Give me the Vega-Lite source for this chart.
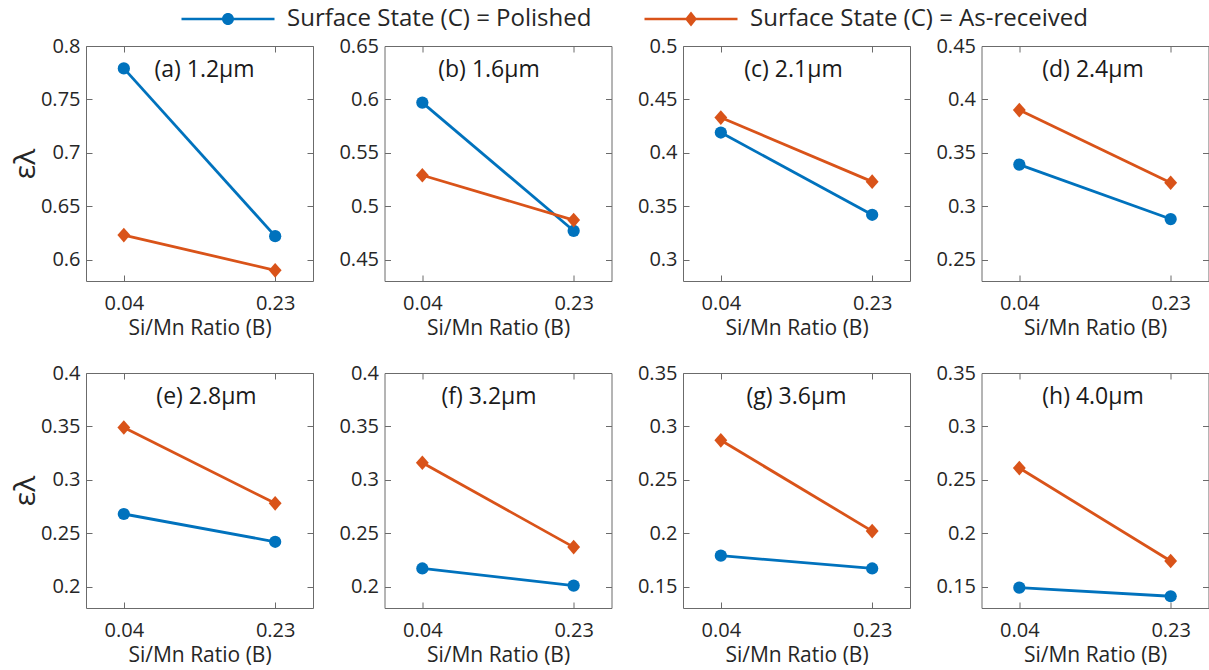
{
  "$schema": "https://vega.github.io/schema/vega-lite/v6.json",
  "padding": {"left": 9, "top": 7, "right": 0, "bottom": 0},
  "background": "white",
  "data": {"values": [
    {"panel": "a", "ratio": "0.04", "state": "Polished", "value": 0.779},
    {"panel": "a", "ratio": "0.23", "state": "Polished", "value": 0.622},
    {"panel": "a", "ratio": "0.04", "state": "As-received", "value": 0.623},
    {"panel": "a", "ratio": "0.23", "state": "As-received", "value": 0.590},
    {"panel": "b", "ratio": "0.04", "state": "Polished", "value": 0.597},
    {"panel": "b", "ratio": "0.23", "state": "Polished", "value": 0.477},
    {"panel": "b", "ratio": "0.04", "state": "As-received", "value": 0.529},
    {"panel": "b", "ratio": "0.23", "state": "As-received", "value": 0.487},
    {"panel": "c", "ratio": "0.04", "state": "Polished", "value": 0.419},
    {"panel": "c", "ratio": "0.23", "state": "Polished", "value": 0.342},
    {"panel": "c", "ratio": "0.04", "state": "As-received", "value": 0.433},
    {"panel": "c", "ratio": "0.23", "state": "As-received", "value": 0.373},
    {"panel": "d", "ratio": "0.04", "state": "Polished", "value": 0.339},
    {"panel": "d", "ratio": "0.23", "state": "Polished", "value": 0.288},
    {"panel": "d", "ratio": "0.04", "state": "As-received", "value": 0.390},
    {"panel": "d", "ratio": "0.23", "state": "As-received", "value": 0.322},
    {"panel": "e", "ratio": "0.04", "state": "Polished", "value": 0.268},
    {"panel": "e", "ratio": "0.23", "state": "Polished", "value": 0.242},
    {"panel": "e", "ratio": "0.04", "state": "As-received", "value": 0.349},
    {"panel": "e", "ratio": "0.23", "state": "As-received", "value": 0.278},
    {"panel": "f", "ratio": "0.04", "state": "Polished", "value": 0.217},
    {"panel": "f", "ratio": "0.23", "state": "Polished", "value": 0.201},
    {"panel": "f", "ratio": "0.04", "state": "As-received", "value": 0.316},
    {"panel": "f", "ratio": "0.23", "state": "As-received", "value": 0.237},
    {"panel": "g", "ratio": "0.04", "state": "Polished", "value": 0.179},
    {"panel": "g", "ratio": "0.23", "state": "Polished", "value": 0.167},
    {"panel": "g", "ratio": "0.04", "state": "As-received", "value": 0.287},
    {"panel": "g", "ratio": "0.23", "state": "As-received", "value": 0.202},
    {"panel": "h", "ratio": "0.04", "state": "Polished", "value": 0.149},
    {"panel": "h", "ratio": "0.23", "state": "Polished", "value": 0.141},
    {"panel": "h", "ratio": "0.04", "state": "As-received", "value": 0.261},
    {"panel": "h", "ratio": "0.23", "state": "As-received", "value": 0.174}
  ]},
  "columns": 4,
  "spacing": {"column": 71.5, "row": 92},
  "bounds": "flush",
  "concat": [
    {
      "width": 227, "height": 235,
      "title": {"text": "(a) 1.2μm", "dx": 5},
      "transform": [{"filter": "datum.panel === 'a'"}],
      "resolve": {"axis": {"x": "independent", "y": "independent"}},
      "layer": [
        {"mark": {"type": "line", "strokeWidth": 2.8},
         "encoding": {
          "x": {"field": "ratio", "type": "ordinal", "sort": ["0.04", "0.23"], "scale": {"type": "point", "padding": 0.25}, "axis": {"title": "Si/Mn Ratio (B)", "labelAngle": 0}},
          "y": {"field": "value", "type": "quantitative", "scale": {"domain": [0.58, 0.8], "nice": false, "zero": false}, "axis": {"title": "ελ", "values": [0.6, 0.65, 0.7, 0.75, 0.8], "format": "~g"}},
          "color": {"field": "state", "type": "nominal", "scale": {"domain": ["Polished", "As-received"], "range": ["#0072BD", "#D95319"]}}}},
        {"mark": {"type": "point", "filled": true, "size": 150, "opacity": 1},
         "encoding": {
          "x": {"field": "ratio", "type": "ordinal", "sort": ["0.04", "0.23"], "scale": {"type": "point", "padding": 0.25}, "axis": {"orient": "top", "labels": false, "title": null}},
          "y": {"field": "value", "type": "quantitative", "scale": {"domain": [0.58, 0.8], "nice": false, "zero": false}, "axis": {"orient": "right", "labels": false, "title": null, "values": [0.6, 0.65, 0.7, 0.75, 0.8]}},
          "color": {"field": "state", "type": "nominal", "scale": {"domain": ["Polished", "As-received"], "range": ["#0072BD", "#D95319"]}},
          "shape": {"condition": {"test": "datum.state === 'Polished'", "value": "circle"}, "value": "M0,-1.2L1.05,0L0,1.2L-1.05,0Z"}}},
        {"mark": {"type": "point", "filled": true, "size": 144, "opacity": 0},
         "encoding": {
          "x": {"field": "ratio", "type": "ordinal", "sort": ["0.04", "0.23"], "scale": {"type": "point", "padding": 0.25}, "axis": null},
          "y": {"field": "value", "type": "quantitative", "scale": {"domain": [0.58, 0.8], "nice": false, "zero": false}, "axis": null},
          "color": {"field": "state", "type": "nominal", "scale": {"domain": ["Polished", "As-received"], "range": ["#0072BD", "#D95319"]},
            "legend": {"title": null, "orient": "none", "legendX": 130, "legendY": -39, "direction": "horizontal", "padding": 0,
              "labelExpr": "'Surface State (C) = ' + datum.label", "labelFont": "Open Sans", "labelFontSize": 24, "labelColor": "#262626", "labelLimit": 600,
              "labelOffset": 47, "columnPadding": 52, "symbolSize": 144, "symbolStrokeWidth": 0, "symbolOpacity": 1}},
          "shape": {"field": "state", "type": "nominal", "scale": {"domain": ["Polished", "As-received"], "range": ["M-7.75,-0.22H7.75V0.22H-7.75Z M1,0A1,1 0 1,1 -1,0A1,1 0 1,1 1,0Z", "M-7.75,-0.22H7.75V0.22H-7.75Z M0,-1.25L1.0,0L0,1.25L-1.0,0Z"]}, "legend": null}}}
      ]
    },
    {
      "width": 227, "height": 235,
      "title": {"text": "(b) 1.6μm", "dx": -9},
      "transform": [{"filter": "datum.panel === 'b'"}],
      "resolve": {"axis": {"x": "independent", "y": "independent"}},
      "layer": [
        {"mark": {"type": "line", "strokeWidth": 2.8},
         "encoding": {
          "x": {"field": "ratio", "type": "ordinal", "sort": ["0.04", "0.23"], "scale": {"type": "point", "padding": 0.25}, "axis": {"title": "Si/Mn Ratio (B)", "labelAngle": 0}},
          "y": {"field": "value", "type": "quantitative", "scale": {"domain": [0.43, 0.65], "nice": false, "zero": false}, "axis": {"title": null, "values": [0.45, 0.5, 0.55, 0.6, 0.65], "format": "~g"}},
          "color": {"field": "state", "type": "nominal", "scale": {"domain": ["Polished", "As-received"], "range": ["#0072BD", "#D95319"]}}}},
        {"mark": {"type": "point", "filled": true, "size": 150, "opacity": 1},
         "encoding": {
          "x": {"field": "ratio", "type": "ordinal", "sort": ["0.04", "0.23"], "scale": {"type": "point", "padding": 0.25}, "axis": {"orient": "top", "labels": false, "title": null}},
          "y": {"field": "value", "type": "quantitative", "scale": {"domain": [0.43, 0.65], "nice": false, "zero": false}, "axis": {"orient": "right", "labels": false, "title": null, "values": [0.45, 0.5, 0.55, 0.6, 0.65]}},
          "color": {"field": "state", "type": "nominal", "scale": {"domain": ["Polished", "As-received"], "range": ["#0072BD", "#D95319"]}},
          "shape": {"condition": {"test": "datum.state === 'Polished'", "value": "circle"}, "value": "M0,-1.2L1.05,0L0,1.2L-1.05,0Z"}}}
      ]
    },
    {
      "width": 227, "height": 235,
      "title": {"text": "(c) 2.1μm", "dx": -3},
      "transform": [{"filter": "datum.panel === 'c'"}],
      "resolve": {"axis": {"x": "independent", "y": "independent"}},
      "layer": [
        {"mark": {"type": "line", "strokeWidth": 2.8},
         "encoding": {
          "x": {"field": "ratio", "type": "ordinal", "sort": ["0.04", "0.23"], "scale": {"type": "point", "padding": 0.25}, "axis": {"title": "Si/Mn Ratio (B)", "labelAngle": 0}},
          "y": {"field": "value", "type": "quantitative", "scale": {"domain": [0.28, 0.5], "nice": false, "zero": false}, "axis": {"title": null, "values": [0.3, 0.35, 0.4, 0.45, 0.5], "format": "~g"}},
          "color": {"field": "state", "type": "nominal", "scale": {"domain": ["Polished", "As-received"], "range": ["#0072BD", "#D95319"]}}}},
        {"mark": {"type": "point", "filled": true, "size": 150, "opacity": 1},
         "encoding": {
          "x": {"field": "ratio", "type": "ordinal", "sort": ["0.04", "0.23"], "scale": {"type": "point", "padding": 0.25}, "axis": {"orient": "top", "labels": false, "title": null}},
          "y": {"field": "value", "type": "quantitative", "scale": {"domain": [0.28, 0.5], "nice": false, "zero": false}, "axis": {"orient": "right", "labels": false, "title": null, "values": [0.3, 0.35, 0.4, 0.45, 0.5]}},
          "color": {"field": "state", "type": "nominal", "scale": {"domain": ["Polished", "As-received"], "range": ["#0072BD", "#D95319"]}},
          "shape": {"condition": {"test": "datum.state === 'Polished'", "value": "circle"}, "value": "M0,-1.2L1.05,0L0,1.2L-1.05,0Z"}}}
      ]
    },
    {
      "width": 227, "height": 235,
      "title": {"text": "(d) 2.4μm", "dx": -2},
      "transform": [{"filter": "datum.panel === 'd'"}],
      "resolve": {"axis": {"x": "independent", "y": "independent"}},
      "layer": [
        {"mark": {"type": "line", "strokeWidth": 2.8},
         "encoding": {
          "x": {"field": "ratio", "type": "ordinal", "sort": ["0.04", "0.23"], "scale": {"type": "point", "padding": 0.25}, "axis": {"title": "Si/Mn Ratio (B)", "labelAngle": 0}},
          "y": {"field": "value", "type": "quantitative", "scale": {"domain": [0.23, 0.45], "nice": false, "zero": false}, "axis": {"title": null, "values": [0.25, 0.3, 0.35, 0.4, 0.45], "format": "~g"}},
          "color": {"field": "state", "type": "nominal", "scale": {"domain": ["Polished", "As-received"], "range": ["#0072BD", "#D95319"]}}}},
        {"mark": {"type": "point", "filled": true, "size": 150, "opacity": 1},
         "encoding": {
          "x": {"field": "ratio", "type": "ordinal", "sort": ["0.04", "0.23"], "scale": {"type": "point", "padding": 0.25}, "axis": {"orient": "top", "labels": false, "title": null}},
          "y": {"field": "value", "type": "quantitative", "scale": {"domain": [0.23, 0.45], "nice": false, "zero": false}, "axis": {"orient": "right", "labels": false, "title": null, "values": [0.25, 0.3, 0.35, 0.4, 0.45]}},
          "color": {"field": "state", "type": "nominal", "scale": {"domain": ["Polished", "As-received"], "range": ["#0072BD", "#D95319"]}},
          "shape": {"condition": {"test": "datum.state === 'Polished'", "value": "circle"}, "value": "M0,-1.2L1.05,0L0,1.2L-1.05,0Z"}}}
      ]
    },
    {
      "width": 227, "height": 235,
      "title": {"text": "(e) 2.8μm", "dx": 7},
      "transform": [{"filter": "datum.panel === 'e'"}],
      "resolve": {"axis": {"x": "independent", "y": "independent"}},
      "layer": [
        {"mark": {"type": "line", "strokeWidth": 2.8},
         "encoding": {
          "x": {"field": "ratio", "type": "ordinal", "sort": ["0.04", "0.23"], "scale": {"type": "point", "padding": 0.25}, "axis": {"title": "Si/Mn Ratio (B)", "labelAngle": 0}},
          "y": {"field": "value", "type": "quantitative", "scale": {"domain": [0.18, 0.4], "nice": false, "zero": false}, "axis": {"title": "ελ", "values": [0.2, 0.25, 0.3, 0.35, 0.4], "format": "~g"}},
          "color": {"field": "state", "type": "nominal", "scale": {"domain": ["Polished", "As-received"], "range": ["#0072BD", "#D95319"]}}}},
        {"mark": {"type": "point", "filled": true, "size": 150, "opacity": 1},
         "encoding": {
          "x": {"field": "ratio", "type": "ordinal", "sort": ["0.04", "0.23"], "scale": {"type": "point", "padding": 0.25}, "axis": {"orient": "top", "labels": false, "title": null}},
          "y": {"field": "value", "type": "quantitative", "scale": {"domain": [0.18, 0.4], "nice": false, "zero": false}, "axis": {"orient": "right", "labels": false, "title": null, "values": [0.2, 0.25, 0.3, 0.35, 0.4]}},
          "color": {"field": "state", "type": "nominal", "scale": {"domain": ["Polished", "As-received"], "range": ["#0072BD", "#D95319"]}},
          "shape": {"condition": {"test": "datum.state === 'Polished'", "value": "circle"}, "value": "M0,-1.2L1.05,0L0,1.2L-1.05,0Z"}}}
      ]
    },
    {
      "width": 227, "height": 235,
      "title": {"text": "(f) 3.2μm", "dx": -9},
      "transform": [{"filter": "datum.panel === 'f'"}],
      "resolve": {"axis": {"x": "independent", "y": "independent"}},
      "layer": [
        {"mark": {"type": "line", "strokeWidth": 2.8},
         "encoding": {
          "x": {"field": "ratio", "type": "ordinal", "sort": ["0.04", "0.23"], "scale": {"type": "point", "padding": 0.25}, "axis": {"title": "Si/Mn Ratio (B)", "labelAngle": 0}},
          "y": {"field": "value", "type": "quantitative", "scale": {"domain": [0.18, 0.4], "nice": false, "zero": false}, "axis": {"title": null, "values": [0.2, 0.25, 0.3, 0.35, 0.4], "format": "~g"}},
          "color": {"field": "state", "type": "nominal", "scale": {"domain": ["Polished", "As-received"], "range": ["#0072BD", "#D95319"]}}}},
        {"mark": {"type": "point", "filled": true, "size": 150, "opacity": 1},
         "encoding": {
          "x": {"field": "ratio", "type": "ordinal", "sort": ["0.04", "0.23"], "scale": {"type": "point", "padding": 0.25}, "axis": {"orient": "top", "labels": false, "title": null}},
          "y": {"field": "value", "type": "quantitative", "scale": {"domain": [0.18, 0.4], "nice": false, "zero": false}, "axis": {"orient": "right", "labels": false, "title": null, "values": [0.2, 0.25, 0.3, 0.35, 0.4]}},
          "color": {"field": "state", "type": "nominal", "scale": {"domain": ["Polished", "As-received"], "range": ["#0072BD", "#D95319"]}},
          "shape": {"condition": {"test": "datum.state === 'Polished'", "value": "circle"}, "value": "M0,-1.2L1.05,0L0,1.2L-1.05,0Z"}}}
      ]
    },
    {
      "width": 227, "height": 235,
      "title": {"text": "(g) 3.6μm", "dx": 0},
      "transform": [{"filter": "datum.panel === 'g'"}],
      "resolve": {"axis": {"x": "independent", "y": "independent"}},
      "layer": [
        {"mark": {"type": "line", "strokeWidth": 2.8},
         "encoding": {
          "x": {"field": "ratio", "type": "ordinal", "sort": ["0.04", "0.23"], "scale": {"type": "point", "padding": 0.25}, "axis": {"title": "Si/Mn Ratio (B)", "labelAngle": 0}},
          "y": {"field": "value", "type": "quantitative", "scale": {"domain": [0.13, 0.35], "nice": false, "zero": false}, "axis": {"title": null, "values": [0.15, 0.2, 0.25, 0.3, 0.35], "format": "~g"}},
          "color": {"field": "state", "type": "nominal", "scale": {"domain": ["Polished", "As-received"], "range": ["#0072BD", "#D95319"]}}}},
        {"mark": {"type": "point", "filled": true, "size": 150, "opacity": 1},
         "encoding": {
          "x": {"field": "ratio", "type": "ordinal", "sort": ["0.04", "0.23"], "scale": {"type": "point", "padding": 0.25}, "axis": {"orient": "top", "labels": false, "title": null}},
          "y": {"field": "value", "type": "quantitative", "scale": {"domain": [0.13, 0.35], "nice": false, "zero": false}, "axis": {"orient": "right", "labels": false, "title": null, "values": [0.15, 0.2, 0.25, 0.3, 0.35]}},
          "color": {"field": "state", "type": "nominal", "scale": {"domain": ["Polished", "As-received"], "range": ["#0072BD", "#D95319"]}},
          "shape": {"condition": {"test": "datum.state === 'Polished'", "value": "circle"}, "value": "M0,-1.2L1.05,0L0,1.2L-1.05,0Z"}}}
      ]
    },
    {
      "width": 227, "height": 235,
      "title": {"text": "(h) 4.0μm", "dx": -2},
      "transform": [{"filter": "datum.panel === 'h'"}],
      "resolve": {"axis": {"x": "independent", "y": "independent"}},
      "layer": [
        {"mark": {"type": "line", "strokeWidth": 2.8},
         "encoding": {
          "x": {"field": "ratio", "type": "ordinal", "sort": ["0.04", "0.23"], "scale": {"type": "point", "padding": 0.25}, "axis": {"title": "Si/Mn Ratio (B)", "labelAngle": 0}},
          "y": {"field": "value", "type": "quantitative", "scale": {"domain": [0.13, 0.35], "nice": false, "zero": false}, "axis": {"title": null, "values": [0.15, 0.2, 0.25, 0.3, 0.35], "format": "~g"}},
          "color": {"field": "state", "type": "nominal", "scale": {"domain": ["Polished", "As-received"], "range": ["#0072BD", "#D95319"]}}}},
        {"mark": {"type": "point", "filled": true, "size": 150, "opacity": 1},
         "encoding": {
          "x": {"field": "ratio", "type": "ordinal", "sort": ["0.04", "0.23"], "scale": {"type": "point", "padding": 0.25}, "axis": {"orient": "top", "labels": false, "title": null}},
          "y": {"field": "value", "type": "quantitative", "scale": {"domain": [0.13, 0.35], "nice": false, "zero": false}, "axis": {"orient": "right", "labels": false, "title": null, "values": [0.15, 0.2, 0.25, 0.3, 0.35]}},
          "color": {"field": "state", "type": "nominal", "scale": {"domain": ["Polished", "As-received"], "range": ["#0072BD", "#D95319"]}},
          "shape": {"condition": {"test": "datum.state === 'Polished'", "value": "circle"}, "value": "M0,-1.2L1.05,0L0,1.2L-1.05,0Z"}}}
      ]
    }
  ],
  "config": {
    "font": "Open Sans",
    "view": {"stroke": "#6b6b6b", "strokeWidth": 1},
    "axis": {"domain": false, "grid": false, "tickColor": "#6b6b6b", "tickSize": -6, "tickWidth": 1,
      "labelFont": "Open Sans", "labelFontSize": 20, "labelColor": "#262626",
      "titleFont": "Open Sans", "titleFontSize": 21, "titleFontWeight": "normal", "titleColor": "#262626"},
    "axisX": {"labelPadding": 18, "titlePadding": 4},
    "axisY": {"labelPadding": 12, "titleFontSize": 30, "titlePadding": 0},
    "title": {"font": "Open Sans", "fontSize": 23, "fontWeight": "normal", "color": "#1a1a1a", "anchor": "middle", "frame": "group", "offset": -46, "baseline": "alphabetic"}
  }
}
